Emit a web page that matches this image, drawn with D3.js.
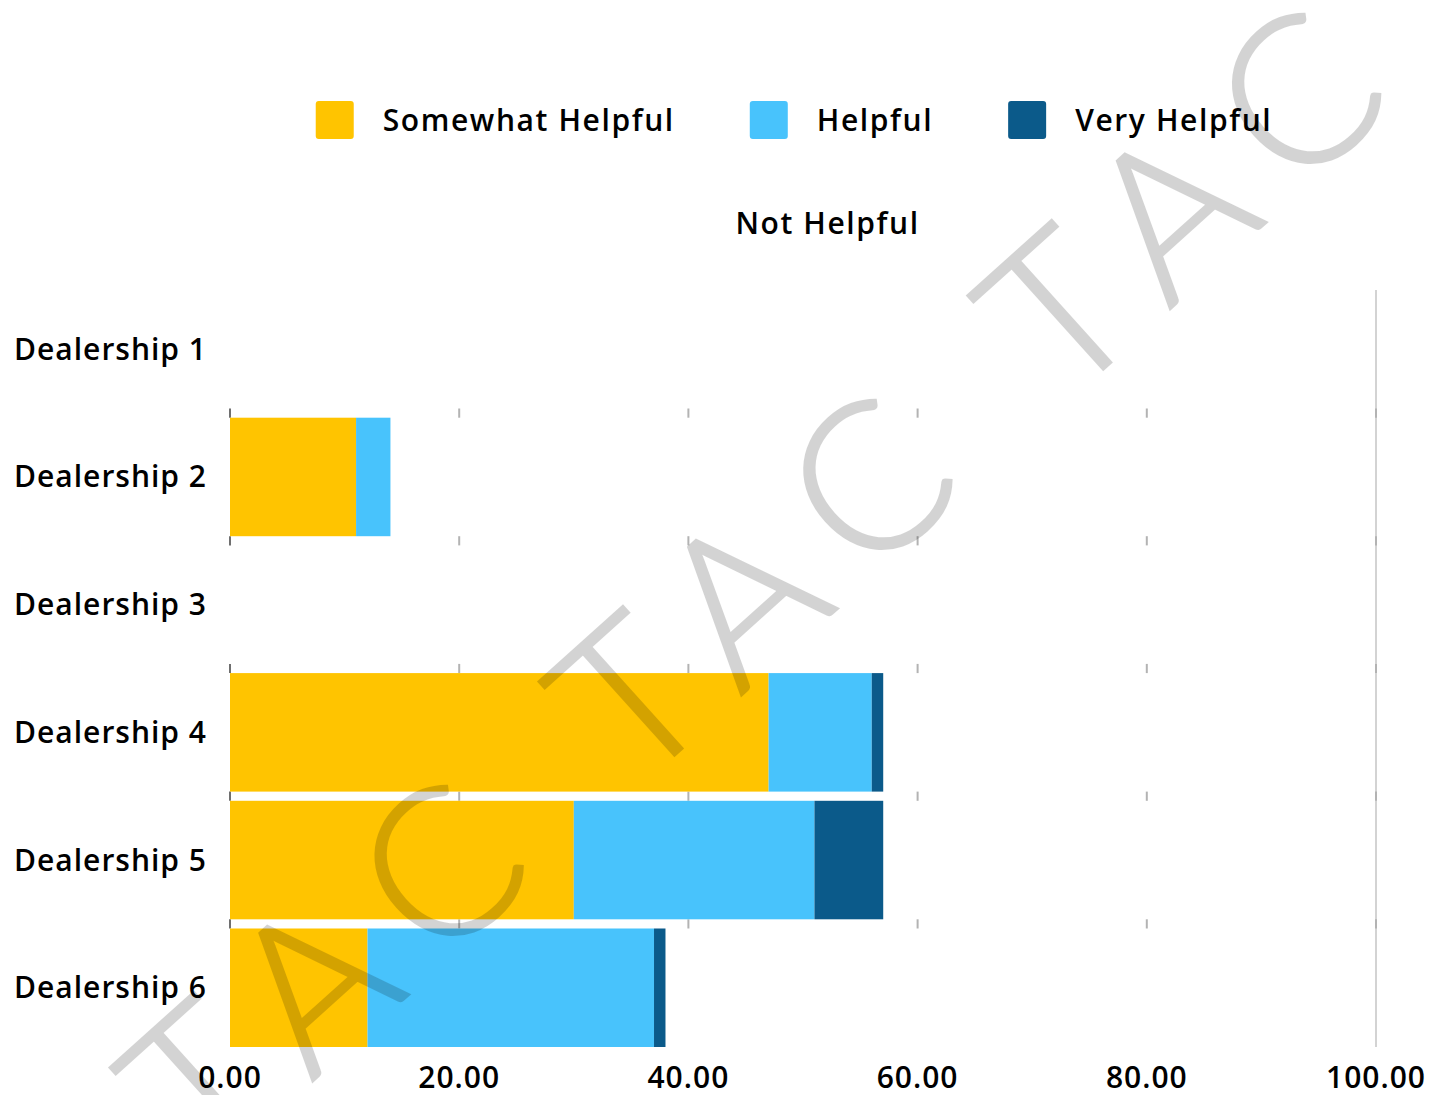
<!DOCTYPE html>
<html>
<head>
<meta charset="utf-8">
<script src="https://cdn.jsdelivr.net/npm/d3@7"></script>
<style>
  html, body { margin: 0; padding: 0; background: #fff; }
  svg { display: block; }
  text.lbl { font-family: "Open Sans", "Noto Sans", sans-serif; fill: #000; font-size: 30px; font-weight: 600; letter-spacing: 1px; }
  text.lbl.leg { letter-spacing: 1.6px; }
</style>
</head>
<body>
<svg id="chart" width="1447" height="1095"></svg>
<script>
// Survey responses per dealership (percent of respondents)
const categories = ["Dealership 1", "Dealership 2", "Dealership 3", "Dealership 4", "Dealership 5", "Dealership 6"];
const seriesNames = ["Somewhat Helpful", "Helpful", "Very Helpful", "Not Helpful"];
const somewhatHelpful = [0, 11, 0, 47, 30, 12];
const helpful         = [0, 3, 0, 9, 21, 25];
const veryHelpful     = [0, 0, 0, 1, 6, 1];
const notHelpful      = [0, 0, 0, 0, 0, 0];
const seriesColors = ["#FFC400", "#48C3FC", "#0B5A8A", "#FFFFFF"];
const xTicks = [0, 20, 40, 60, 80, 100];

const rows = categories.map((c, i) => ({
  category: c,
  "Somewhat Helpful": somewhatHelpful[i],
  "Helpful": helpful[i],
  "Very Helpful": veryHelpful[i],
  "Not Helpful": notHelpful[i]
}));

const svg = d3.select("#chart");
const W = 1447, H = 1095;
const m = { left: 230, right: 71, top: 290, bottom: 48 };

const x = d3.scaleLinear().domain([0, 100]).range([m.left, W - m.right]);
const y = d3.scaleBand().domain(categories).range([m.top, H - m.bottom]).paddingInner(0.072).paddingOuter(0);
const color = d3.scaleOrdinal().domain(seriesNames).range(seriesColors);

// Grid: short dashes in the gaps between rows
const grid = svg.append("g");
// full line at the maximum
grid.append("line")
  .attr("x1", x(100)).attr("x2", x(100))
  .attr("y1", y.range()[0]).attr("y2", y.range()[1])
  .attr("stroke", "#c4c4c4").attr("stroke-width", 1.5);
const gaps = categories.slice(1).map((c, i) => ({ y0: y(categories[i]) + y.bandwidth(), y1: y(c) }));
xTicks.forEach(t => {
  grid.selectAll(null).data(gaps).enter().append("line")
    .attr("x1", x(t)).attr("x2", x(t))
    .attr("y1", d => d.y0).attr("y2", d => d.y1)
    .attr("stroke", t === 0 ? "#6f6f6f" : "#b3b3b3")
    .attr("stroke-width", 2);
});

// Stacked bars
const stack = d3.stack().keys(seriesNames);
const layers = stack(rows);
svg.append("g").selectAll("g").data(layers).enter().append("g")
  .attr("fill", d => color(d.key))
  .selectAll("rect").data(d => d).enter().append("rect")
  .attr("x", d => x(d[0]))
  .attr("y", d => y(d.data.category))
  .attr("width", d => Math.max(0, x(d[1]) - x(d[0])))
  .attr("height", y.bandwidth());

// Category labels
svg.append("g").selectAll("text").data(categories).enter().append("text")
  .attr("class", "lbl")
  .attr("x", 207)
  .attr("y", d => y(d) + y.bandwidth() / 2)
  .attr("dy", "0.35em")
  .attr("text-anchor", "end")
  .text(d => d);

// X tick labels
const fmt = d3.format(".2f");
svg.append("g").selectAll("text").data(xTicks).enter().append("text")
  .attr("class", "lbl")
  .attr("x", d => x(d))
  .attr("y", 1077)
  .attr("dy", "0.35em")
  .attr("text-anchor", "middle")
  .text(d => fmt(d));

// Legend: three items on the first row, the last one centred below
const legend = svg.append("g");
const legendRows = [seriesNames.slice(0, 3), seriesNames.slice(3)];
const legendCenter = 794, rowY = [120, 223], sw = 38, textGap = 29, itemGap = 75;
legendRows.forEach((names, r) => {
  const items = names.map(n => {
    const g = legend.append("g");
    g.append("rect").attr("width", sw).attr("height", sw).attr("rx", 3)
      .attr("y", -sw / 2).attr("fill", color(n));
    const t = g.append("text").attr("class", "lbl leg").attr("x", sw + textGap).attr("dy", "0.35em").text(n);
    return { g, w: sw + textGap + t.node().getComputedTextLength() };
  });
  const total = d3.sum(items, d => d.w) + itemGap * (items.length - 1);
  let cx = legendCenter - total / 2;
  items.forEach(it => {
    it.g.attr("transform", `translate(${cx},${rowY[r]})`);
    cx += it.w + itemGap;
  });
});

// Watermark along a diagonal baseline
const mark = "TAC";
const letterOffsets = [0, 150, 322];
const groupStep = 577;
const wmLayer = svg.append("g").attr("opacity", 0.17);
const wm = wmLayer.append("text")
  .attr("transform", "translate(1107,366) rotate(-42)")
  .style("font-family", "Lato, 'Open Sans', sans-serif")
  .style("font-weight", 300)
  .style("font-size", "206px")
  .style("fill", "#000")
  .style("stroke", "#000")
  .style("stroke-width", 2.5)
  .style("stroke-linejoin", "miter")
  .attr("text-anchor", "middle");
[-2, -1, 0].forEach(k => {
  mark.split("").forEach((ch, i) => {
    wm.append("tspan").attr("x", k * groupStep + letterOffsets[i]).attr("y", 0).text(ch);
  });
});
</script>
</body>
</html>
